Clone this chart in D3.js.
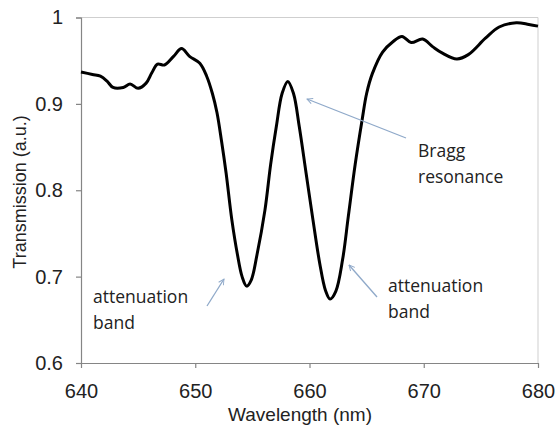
<!DOCTYPE html>
<html><head><meta charset="utf-8">
<script src="https://cdn.jsdelivr.net/npm/d3@7/dist/d3.min.js"></script>
<style>body{margin:0;background:#fff}svg{display:block}</style>
</head><body>
<script>
const wavelength = [640,641,641.7,642.3,642.8,643.7,644.3,645,645.7,646.2,646.7,647.3,648.1,648.8,649.5,650.4,651.0,651.5,651.9,652.3,652.7,653.2,653.7,654.1,654.5,654.9,655.4,656.1,656.6,657.1,657.6,658.1,658.6,659.1,659.7,660.3,660.9,661.4,661.8,662.3,662.9,663.4,664.0,664.6,665.0,665.5,666.4,667.3,668.1,668.9,669.9,670.8,671.6,672.9,673.9,675.4,676.6,678.1,679.2,680];
const transmission = [0.937,0.934,0.932,0.926,0.919,0.919,0.923,0.918,0.924,0.936,0.946,0.945,0.955,0.964,0.955,0.947,0.932,0.912,0.890,0.857,0.820,0.766,0.725,0.700,0.689,0.696,0.725,0.777,0.830,0.874,0.912,0.926,0.912,0.874,0.820,0.766,0.715,0.684,0.674,0.683,0.720,0.770,0.830,0.881,0.912,0.935,0.960,0.972,0.978,0.971,0.975,0.966,0.959,0.952,0.957,0.976,0.989,0.994,0.992,0.990];
const xTicks = [640,650,660,670,680];
const yTicks = [0.6,0.7,0.8,0.9,1];
const yTickLabels = ["0.6","0.7","0.8","0.9","1"];
const annotations = [
  {lines:["Bragg","resonance"], tx:418, ty:157, from:[406,138], to:[307,99]},
  {lines:["attenuation","band"], tx:93, ty:303, from:[207,306], to:[224,279]},
  {lines:["attenuation","band"], tx:388, ty:292, from:[377,297], to:[349,265]}
];

const W=556,H=433;
const L=81,T=17.5,R=538,B=363;
const svg=d3.select("body").append("svg").attr("width",W).attr("height",H);
const x=d3.scaleLinear().domain([640,680]).range([L,R]);
const y=d3.scaleLinear().domain([0.6,1]).range([B,T]);

svg.append("path").attr("d",`M${L},${T}H${R}V${B}`).attr("fill","none").attr("stroke","#cfcfcf").attr("stroke-width",1);

const font="'Liberation Sans', Arial, sans-serif";
const yAxis=d3.axisLeft(y).tickValues(yTicks).tickSize(5).tickPadding(13).tickFormat((d,i)=>yTickLabels[i]);
const gy=svg.append("g").attr("transform",`translate(${L},0)`).call(yAxis);
const xAxis=d3.axisBottom(x).tickValues(xTicks).tickSize(5).tickPadding(16).tickFormat(d3.format("d"));
const gx=svg.append("g").attr("transform",`translate(0,${B})`).call(xAxis);
[gx,gy].forEach(g=>{
  g.select(".domain").attr("stroke","#858585").attr("stroke-width",1.2);
  g.selectAll(".tick line").attr("stroke","#858585").attr("stroke-width",1.2);
  g.selectAll("text").attr("font-family",font).attr("font-size",20).attr("fill","#222");
});
gx.select(".domain").attr("d",`M${L-5},0.5H${R}`);

const line=d3.line().x((d,i)=>x(wavelength[i])).y(d=>y(d)).curve(d3.curveCatmullRom.alpha(0.5));
svg.append("path").datum(transmission).attr("d",line).attr("fill","none").attr("stroke","#000").attr("stroke-width",3).attr("stroke-linejoin","round");

svg.append("text").attr("transform",`translate(20,192) rotate(-90)`).attr("text-anchor","middle").attr("dominant-baseline","central")
  .attr("font-family",font).attr("font-size",18).attr("fill","#222").text("Transmission (a.u.)");
svg.append("text").attr("x",300).attr("y",414).attr("text-anchor","middle").attr("dominant-baseline","central")
  .attr("font-family",font).attr("font-size",19).attr("fill","#222").text("Wavelength (nm)");

const defs=svg.append("defs");
defs.append("marker").attr("id","arr").attr("viewBox","0 0 10 10").attr("refX",9).attr("refY",5)
  .attr("markerWidth",7).attr("markerHeight",7).attr("orient","auto").attr("markerUnits","userSpaceOnUse")
  .append("path").attr("d","M1,1L9,5L1,9").attr("fill","none").attr("stroke","#8fa9c9").attr("stroke-width",1.3);

annotations.forEach(a=>{
  svg.append("line").attr("x1",a.from[0]).attr("y1",a.from[1]).attr("x2",a.to[0]).attr("y2",a.to[1])
    .attr("stroke","#8fa9c9").attr("stroke-width",1.3).attr("marker-end","url(#arr)");
  const t=svg.append("text").attr("font-family","'Open Sans', sans-serif").attr("font-size",17.5).attr("fill","#222");
  a.lines.forEach((s,i)=>t.append("tspan").attr("x",a.tx).attr("y",a.ty+i*25.5).text(s));
});
</script>
</body></html>
